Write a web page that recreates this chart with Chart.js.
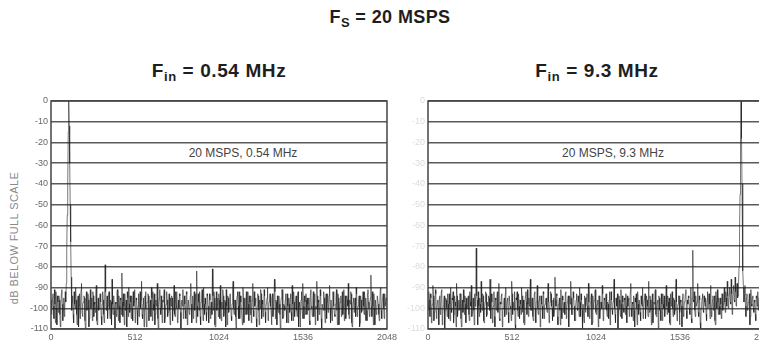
<!DOCTYPE html>
<html><head><meta charset="utf-8">
<script src="https://cdn.jsdelivr.net/npm/chart.js@4"></script>
<style>
html,body{margin:0;padding:0;width:759px;height:345px;overflow:hidden;background:#fff;font-family:'Liberation Sans',Arial,sans-serif;}
body{position:relative}
.t{position:absolute;width:300px;text-align:center;font-weight:bold;color:#1e1e1e;white-space:nowrap;font-size:18px;line-height:20px;letter-spacing:0.4px}
.t sub{font-size:13px;vertical-align:-4px;line-height:0}
.t.p{font-size:19px;letter-spacing:0.6px}
.lab{position:absolute;width:200px;text-align:center;color:#444;font-size:12px;line-height:12px;white-space:nowrap}
.ytitle{position:absolute;width:200px;text-align:center;color:#8a8a8a;font-size:11px;line-height:12px;transform:rotate(-90deg);white-space:nowrap;letter-spacing:0.4px}
canvas{position:absolute;top:0}
</style></head><body>
<div class="t" style="left:240px;top:7px">F<sub>S</sub> = 20 MSPS</div>
<div class="t p" style="left:69px;top:61px">F<sub>in</sub> = 0.54 MHz</div>
<div class="t p" style="left:447px;top:61px">F<sub>in</sub> = 9.3 MHz</div>
<div class="lab" style="left:143px;top:147px">20 MSPS, 0.54 MHz</div>
<div class="lab" style="left:513px;top:147px">20 MSPS, 9.3 MHz</div>
<div class="ytitle" style="left:-86px;top:232px">dB BELOW FULL SCALE</div>
<canvas id="c1" width="400" height="345" style="left:0px"></canvas>
<canvas id="c2" width="400" height="345" style="left:377px"></canvas>
<script>
// x axis is FFT bin number 0..2048; "even" arrays sit at bins 0,6,12,... and "odd" arrays at bins 3,9,15,...
const BIN_STEP = 6;
const xTicks = [0, 512, 1024, 1536, 2048];
const yTicks = [0, -10, -20, -30, -40, -50, -60, -70, -80, -90, -100, -110];

// dB below full scale, Fin = 0.54 MHz (bins 0, 6, 12, ...)
const spectrum054Even = [
-96,-101,-93,-105,-98,-92,-108,-97,-94,-103,-99,-91,-106,-95,-100,-97,-72,-40,0,-30,
-68,-101,-94,-107,-98,-90,-103,-96,-109,-93,-99,-88,-104,-97,-95,-110,-92,-100,-96,-105,
-91,-99,-106,-94,-97,-102,-89,-108,-95,-100,-93,-104,-98,-96,-107,-79,-101,-94,-99,-92,
-105,-97,-86,-103,-95,-110,-98,-92,-100,-94,-107,-96,-83,-104,-99,-93,-101,-109,-95,-90,
-102,-97,-94,-106,-99,-91,-104,-96,-108,-93,-98,-100,-87,-105,-95,-102,-92,-109,-97,-94,
-101,-96,-90,-106,-98,-93,-103,-99,-88,-110,-95,-100,-94,-107,-97,-91,-104,-98,-96,-102,
-93,-108,-99,-95,-101,-89,-104,-97,-92,-106,-100,-94,-110,-96,-91,-103,-98,-105,-93,-99,
-96,-102,-88,-107,-94,-99,-101,-93,-82,-104,-97,-92,-108,-95,-100,-90,-103,-98,-106,-94,
-99,-93,-105,-97,-81,-101,-95,-109,-92,-98,-104,-96,-89,-106,-100,-94,-102,-97,-91,-108,
-95,-100,-93,-104,-98,-87,-103,-96,-110,-94,-99,-92,-105,-97,-101,-90,-107,-95,-98,-103,
-92,-106,-97,-94,-100,-88,-104,-99,-95,-109,-93,-101,-96,-91,-105,-98,-102,-94,-107,-97,
-90,-103,-96,-99,-108,-93,-100,-86,-105,-97,-94,-102,-98,-110,-95,-91,-104,-99,-96,-101,
-93,-107,-98,-95,-102,-89,-106,-97,-100,-94,-104,-92,-99,-109,-96,-101,-88,-105,-97,-93,
-103,-98,-95,-108,-91,-100,-96,-104,-93,-99,-87,-106,-97,-102,-94,-110,-98,-92,-101,-96,
-105,-93,-99,-89,-107,-96,-101,-94,-103,-98,-91,-108,-95,-100,-97,-104,-92,-99,-106,-94,
-100,-96,-88,-105,-98,-93,-109,-97,-102,-95,-90,-104,-99,-94,-107,-96,-101,-92,-103,-98,
-95,-106,-91,-100,-97,-84,-104,-99,-93,-108,-96,-101,-94,-103,-98,-90,-105,-97,-100,-93,
-99,-96
];
// dB below full scale, Fin = 0.54 MHz (bins 3, 9, 15, ...)
const spectrum054Odd = [
-103,-95,-99,-91,-107,-100,-94,-102,-96,-109,-93,-98,-101,-104,-92,-88,-55,-15,-12,-50,
-85,-97,-103,-92,-100,-96,-108,-94,-99,-105,-91,-102,-98,-94,-106,-97,-101,-93,-109,-96,
-100,-95,-92,-104,-98,-93,-106,-99,-101,-94,-97,-108,-92,-103,-96,-92,-98,-105,-93,-100,
-96,-108,-98,-94,-101,-97,-104,-91,-106,-99,-95,-103,-97,-93,-108,-100,-96,-92,-104,-98,
-94,-105,-100,-92,-97,-107,-95,-101,-99,-104,-92,-96,-103,-98,-109,-94,-100,-97,-93,-106,
-99,-104,-95,-92,-101,-108,-96,-93,-105,-98,-91,-103,-100,-96,-94,-107,-99,-92,-104,-97,
-101,-95,-94,-106,-98,-103,-92,-100,-107,-96,-93,-102,-97,-99,-105,-94,-101,-92,-108,-96,
-103,-94,-98,-100,-105,-92,-96,-107,-99,-93,-101,-104,-97,-91,-106,-98,-95,-102,-93,-100,
-107,-96,-99,-103,-94,-92,-108,-98,-101,-95,-93,-105,-100,-97,-91,-104,-96,-109,-99,-94,
-102,-97,-93,-106,-91,-100,-96,-104,-98,-92,-105,-99,-94,-101,-108,-95,-97,-103,-92,-100,
-98,-94,-103,-107,-96,-101,-92,-97,-105,-99,-94,-108,-100,-93,-96,-104,-91,-102,-98,-95,
-106,-97,-93,-101,-95,-104,-99,-92,-96,-108,-100,-94,-103,-97,-91,-105,-98,-101,-93,-107,
-99,-95,-102,-93,-106,-98,-92,-104,-96,-101,-94,-109,-97,-100,-92,-105,-99,-94,-103,-96,
-95,-101,-106,-93,-99,-104,-92,-97,-108,-100,-94,-96,-103,-91,-105,-98,-101,-95,-107,-93,
-97,-102,-94,-100,-96,-106,-92,-99,-104,-95,-101,-93,-108,-98,-94,-97,-103,-91,-100,-105,
-94,-99,-103,-96,-92,-107,-100,-95,-98,-104,-93,-101,-97,-109,-94,-102,-96,-99,-92,-106,
-101,-93,-97,-104,-95,-99,-92,-108,-100,-96,-103,-94,-98,-106,-91,-101,-97,-93,-105,-99,
-95,-102
];

// dB below full scale, Fin = 9.3 MHz (bins 0, 6, 12, ...)
const spectrum93Even = [
-97,-92,-104,-95,-100,-89,-106,-98,-93,-101,-96,-108,-94,-99,-91,-103,-97,-110,-95,-100,
-93,-105,-98,-90,-102,-96,-107,-94,-99,-88,-104,-97,-101,-93,-109,-96,-91,-103,-98,-95,
-100,-94,-106,-97,-89,-102,-95,-108,-99,-71,-96,-92,-104,-98,-87,-101,-94,-107,-97,-93,
-103,-99,-95,-86,-105,-97,-100,-92,-109,-96,-94,-102,-88,-106,-98,-93,-101,-97,-104,-90,
-99,-95,-107,-94,-100,-87,-103,-97,-92,-110,-96,-101,-93,-105,-98,-90,-102,-96,-108,-94,
-97,-91,-104,-99,-86,-101,-95,-106,-93,-100,-97,-89,-103,-96,-109,-94,-99,-92,-105,-98,
-95,-102,-88,-107,-97,-93,-100,-96,-104,-85,-99,-94,-108,-97,-101,-91,-105,-96,-98,-103,
-92,-100,-96,-109,-94,-87,-103,-98,-95,-106,-99,-93,-101,-97,-90,-104,-96,-110,-98,-94,
-102,-95,-99,-88,-105,-97,-93,-107,-100,-96,-91,-103,-98,-109,-94,-101,-97,-89,-106,-95,
-100,-93,-104,-98,-96,-108,-92,-101,-97,-86,-103,-95,-99,-110,-94,-100,-91,-105,-97,-102,
-96,-93,-107,-99,-95,-101,-88,-104,-98,-94,-109,-97,-100,-92,-103,-96,-106,-98,-90,-101,
-97,-105,-94,-99,-87,-102,-96,-108,-93,-100,-98,-91,-104,-97,-110,-95,-101,-93,-106,-98,
-94,-100,-89,-103,-97,-95,-108,-99,-92,-104,-96,-101,-86,-106,-98,-94,-102,-97,-109,-93,
-100,-96,-91,-105,-98,-95,-103,-90,-107,-72,-97,-101,-94,-99,-88,-104,-96,-110,-98,-93,
-102,-97,-95,-106,-92,-100,-98,-89,-104,-96,-101,-94,-108,-97,-91,-103,-99,-95,-105,-93,
-98,-90,-102,-95,-87,-100,-93,-97,-86,-103,-91,-96,-85,-99,-88,-94,-80,-45,0,-40,
-82,-97,-89,-104,-93,-100,-96,-108,-91,-99,-94,-102,-97,-106,-95,-92,-101,-98,-104,-96,
-93,-100
];
// dB below full scale, Fin = 9.3 MHz (bins 3, 9, 15, ...)
const spectrum93Odd = [
-101,-96,-93,-107,-98,-94,-102,-91,-105,-97,-100,-95,-103,-92,-108,-99,-94,-101,-96,-104,
-98,-93,-106,-100,-95,-92,-103,-97,-109,-94,-101,-96,-93,-105,-99,-102,-97,-94,-107,-100,
-95,-103,-92,-99,-104,-96,-101,-93,-96,-94,-108,-99,-95,-102,-97,-93,-106,-100,-92,-104,
-97,-94,-101,-96,-93,-107,-99,-104,-95,-101,-92,-98,-105,-97,-94,-109,-100,-95,-93,-103,
-96,-102,-94,-99,-106,-93,-97,-101,-108,-95,-92,-104,-99,-96,-103,-94,-100,-107,-97,-92,
-103,-98,-95,-93,-101,-96,-104,-99,-92,-107,-95,-100,-97,-94,-102,-98,-105,-93,-99,-96,
-100,-94,-97,-103,-92,-99,-106,-95,-101,-96,-93,-104,-98,-95,-108,-100,-94,-102,-97,-93,
-105,-97,-94,-101,-98,-95,-103,-92,-99,-106,-96,-100,-94,-104,-97,-93,-101,-98,-107,-95,
-99,-93,-104,-97,-101,-95,-108,-94,-98,-92,-102,-99,-96,-94,-105,-97,-100,-93,-103,-96,
-94,-101,-97,-105,-92,-99,-96,-103,-94,-100,-107,-97,-93,-101,-96,-104,-98,-94,-100,-95,
-103,-99,-94,-96,-104,-92,-100,-97,-106,-101,-95,-93,-108,-98,-96,-102,-94,-99,-105,-97,
-93,-100,-96,-104,-98,-94,-101,-95,-107,-97,-92,-103,-99,-96,-94,-101,-106,-98,-93,-100,
-104,-96,-99,-94,-102,-107,-93,-98,-100,-95,-103,-92,-97,-101,-94,-108,-96,-99,-95,-104,
-97,-93,-101,-96,-94,-100,-98,-105,-95,-96,-92,-104,-99,-97,-102,-94,-107,-100,-95,-101,
-94,-99,-103,-96,-100,-93,-105,-97,-101,-94,-98,-106,-92,-100,-97,-95,-103,-98,-93,-101,
-95,-97,-92,-99,-94,-96,-90,-98,-93,-95,-89,-97,-92,-90,-95,-88,-62,-20,-18,-60,
-90,-94,-99,-95,-101,-97,-93,-104,-98,-95,-100,-96,-103,-94,-99,-101,-95,-97,-92,-100,
-97,-95
];

Chart.defaults.font.family = "'Liberation Sans', Arial, sans-serif";

const framePlugin = {
  id: 'frame',
  afterDatasetsDraw(chart) {
    const a = chart.chartArea, ctx = chart.ctx;
    ctx.save();
    ctx.strokeStyle = '#444';
    ctx.lineWidth = 1.5;
    ctx.strokeRect(a.left, a.top, a.right - a.left, a.bottom - a.top);
    ctx.restore();
  }
};

function buildPoints(even, odd) {
  const pts = [];
  even.forEach((v, i) => {
    pts.push({ x: i * BIN_STEP, y: v });
    if (i < odd.length) pts.push({ x: i * BIN_STEP + BIN_STEP / 2, y: odd[i] });
  });
  return pts;
}

function makeChart(id, even, odd, yTickColor) {
  return new Chart(document.getElementById(id), {
    type: 'line',
    data: { datasets: [{
      data: buildPoints(even, odd),
      borderColor: 'rgba(30,30,30,0.6)',
      borderWidth: 1,
      pointRadius: 0,
      tension: 0,
      fill: false
    }]},
    options: {
      responsive: false,
      animation: false,
      devicePixelRatio: 1,
      layout: { padding: { top: 101, right: 13, left: 0, bottom: 0 } },
      plugins: { legend: { display: false }, tooltip: { enabled: false } },
      scales: {
        x: {
          type: 'linear', min: 0, max: 2048,
          afterBuildTicks(s) { s.ticks = xTicks.map(v => ({ value: v })); },
          afterFit(s) { s.height = 16; },
          ticks: { color: '#666', font: { size: 9 }, padding: 3, maxRotation: 0, callback: v => String(v) },
          grid: { display: false, drawTicks: false },
          border: { display: false }
        },
        y: {
          type: 'linear', min: -110, max: 0,
          afterBuildTicks(s) { s.ticks = yTicks.map(v => ({ value: v })); },
          afterFit(s) { s.width = 51; },
          ticks: { color: yTickColor, font: { size: 9 }, padding: 3, callback: v => String(v) },
          grid: { color: '#5a5a5a', lineWidth: 1.4, drawTicks: false },
          border: { display: false }
        }
      }
    },
    plugins: [framePlugin]
  });
}

makeChart('c1', spectrum054Even, spectrum054Odd, '#666');
makeChart('c2', spectrum93Even, spectrum93Odd, '#dcdcdc');
</script>
</body></html>
